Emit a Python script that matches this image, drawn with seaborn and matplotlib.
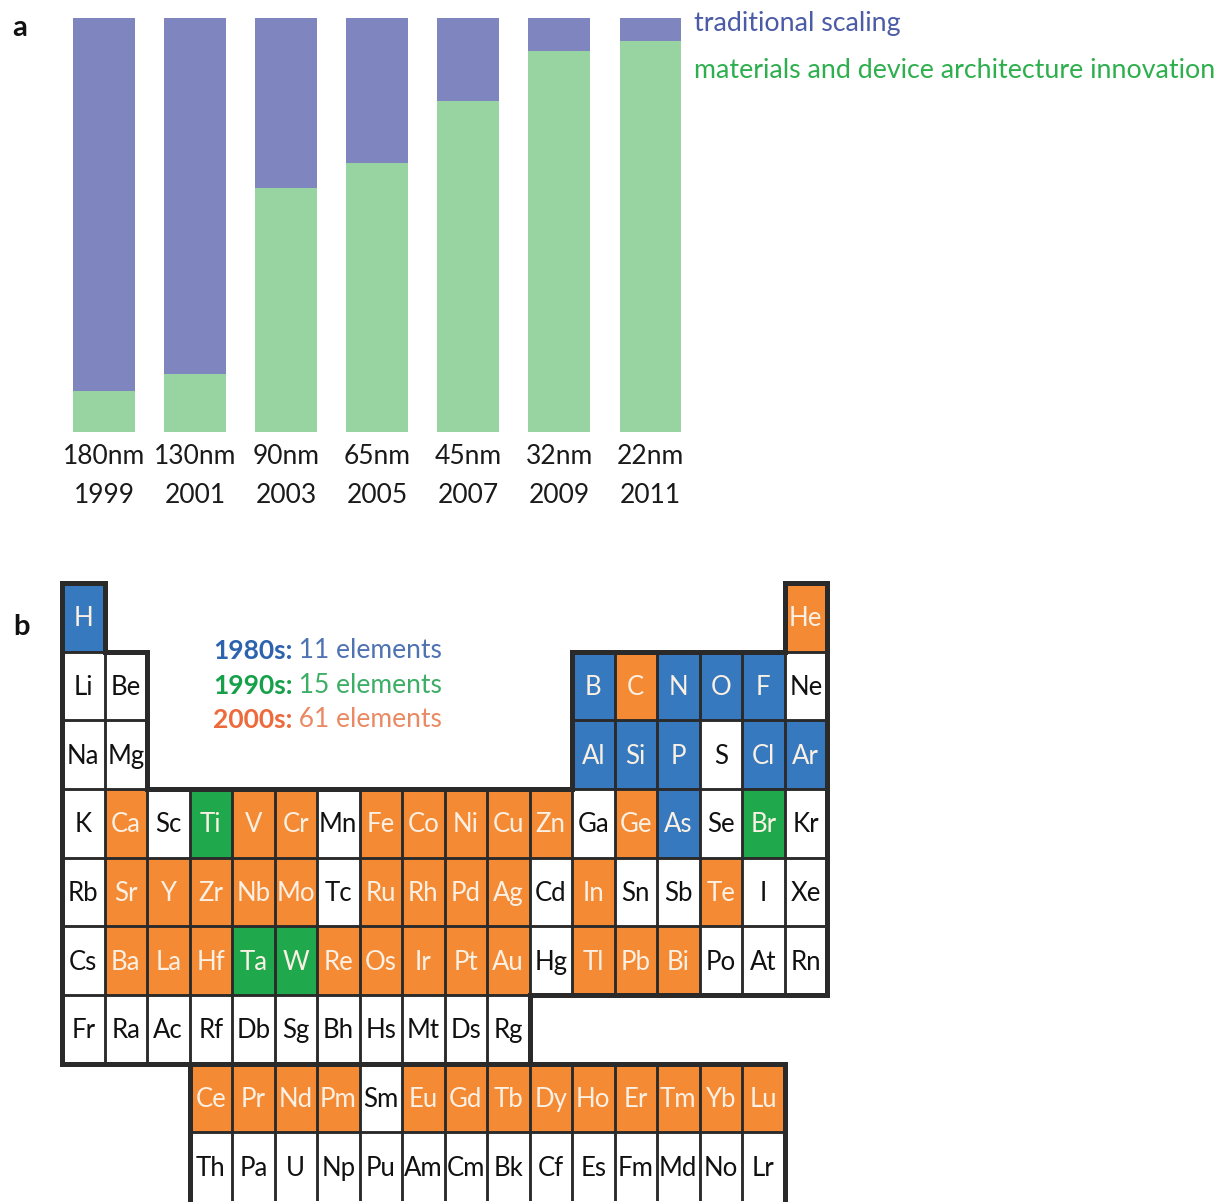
import numpy as np
import pandas as pd
import matplotlib
matplotlib.use("Agg")
import matplotlib.pyplot as plt
import seaborn as sns
from matplotlib.colors import ListedColormap
from matplotlib.collections import LineCollection

# ---------------- data: panel a ----------------
nodes = ["180nm", "130nm", "90nm", "65nm", "45nm", "32nm", "22nm"]
years = ["1999", "2001", "2003", "2005", "2007", "2009", "2011"]
materials_share = [10, 14, 59, 65, 80, 92, 94.5]
scaling_share = [90, 86, 41, 35, 20, 8, 5.5]

# ---------------- data: panel b ----------------
table_rows = [
    ["H"] + [""] * 16 + ["He"],
    ["Li", "Be"] + [""] * 10 + ["B", "C", "N", "O", "F", "Ne"],
    ["Na", "Mg"] + [""] * 10 + ["Al", "Si", "P", "S", "Cl", "Ar"],
    ["K", "Ca", "Sc", "Ti", "V", "Cr", "Mn", "Fe", "Co", "Ni", "Cu", "Zn", "Ga", "Ge", "As", "Se", "Br", "Kr"],
    ["Rb", "Sr", "Y", "Zr", "Nb", "Mo", "Tc", "Ru", "Rh", "Pd", "Ag", "Cd", "In", "Sn", "Sb", "Te", "I", "Xe"],
    ["Cs", "Ba", "La", "Hf", "Ta", "W", "Re", "Os", "Ir", "Pt", "Au", "Hg", "Tl", "Pb", "Bi", "Po", "At", "Rn"],
    ["Fr", "Ra", "Ac", "Rf", "Db", "Sg", "Bh", "Hs", "Mt", "Ds", "Rg"] + [""] * 7,
    [""] * 3 + ["Ce", "Pr", "Nd", "Pm", "Sm", "Eu", "Gd", "Tb", "Dy", "Ho", "Er", "Tm", "Yb", "Lu"] + [""],
    [""] * 3 + ["Th", "Pa", "U", "Np", "Pu", "Am", "Cm", "Bk", "Cf", "Es", "Fm", "Md", "No", "Lr"] + [""],
]
era_1980s = ["H", "B", "N", "O", "F", "Al", "Si", "P", "Cl", "Ar", "As"]
era_1990s = ["Ti", "Br", "Ta", "W"]
era_2000s = ["He", "C", "Ca", "V", "Cr", "Fe", "Co", "Ni", "Cu", "Zn", "Ge",
             "Sr", "Y", "Zr", "Nb", "Mo", "Ru", "Rh", "Pd", "Ag", "In", "Te",
             "Ba", "La", "Hf", "Re", "Os", "Ir", "Pt", "Au", "Tl", "Pb", "Bi",
             "Ce", "Pr", "Nd", "Pm", "Eu", "Gd", "Tb", "Dy", "Ho", "Er", "Tm", "Yb", "Lu"]
main_block_rows = 7
legend_b = [("1980s:", " 11 elements"), ("1990s:", " 15 elements"), ("2000s:", " 61 elements")]

# ---------------- style ----------------
BAR_BLUE = "#7F85BF"
BAR_GREEN = "#98D4A2"
CELL_BLUE = "#3779BE"
CELL_GREEN = "#20A84D"
CELL_ORANGE = "#F58A34"
LINE = "#2a2a2a"

sns.set_theme(style="white")
plt.rcParams["font.family"] = ["Lato", "DejaVu Sans"]

W, H = 1225, 1202
fig = plt.figure(figsize=(W / 100, H / 100), dpi=100, facecolor="white")


def px_axes(l, t, r, b):
    return fig.add_axes([l / W, 1 - b / H, (r - l) / W, (b - t) / H])


# ---------------- panel a ----------------
axa = px_axes(58.5, 18, 696, 432)
df = pd.DataFrame({
    "label": [f"{n}\n{y}" for n, y in zip(nodes, years)],
    "materials": materials_share,
    "scaling": scaling_share,
})
df["total"] = df["materials"] + df["scaling"]
sns.barplot(data=df, x="label", y="total", color=BAR_BLUE, saturation=1,
            width=0.68, errorbar=None, linewidth=0, ax=axa)
sns.barplot(data=df, x="label", y="materials", color=BAR_GREEN, saturation=1,
            width=0.68, errorbar=None, linewidth=0, ax=axa)
axa.set_ylim(0, 100)
axa.set_xlim(-0.5, len(nodes) - 0.5)
axa.set_yticks([])
axa.set_xlabel("")
axa.set_ylabel("")
axa.tick_params(axis="x", length=0, pad=8.5, labelsize=19, labelcolor="#1a1a1a")
for lbl in axa.get_xticklabels():
    lbl.set_linespacing(1.72)
sns.despine(ax=axa, left=True, bottom=True)

fig.text(694 / W, 1 - 24 / H, "traditional scaling", color="#4B5BA6",
         fontsize=19.3, ha="left", va="center")
fig.text(694 / W, 1 - 70 / H, "materials and device architecture innovation",
         color="#2EAF4E", fontsize=19.3, ha="left", va="center")

fig.text(12 / W, 1 - 28 / H, "a", fontweight="bold", fontsize=21, va="center", color="#111111")
fig.text(13 / W, 1 - 627 / H, "b", fontweight="bold", fontsize=21, va="center", color="#111111")

# ---------------- panel b ----------------
nrows, ncols = len(table_rows), len(table_rows[0])
status = np.full((nrows, ncols), np.nan)
for i, row in enumerate(table_rows):
    for j, sym in enumerate(row):
        if not sym:
            continue
        if sym in era_1980s:
            status[i, j] = 1
        elif sym in era_1990s:
            status[i, j] = 2
        elif sym in era_2000s:
            status[i, j] = 3
        else:
            status[i, j] = 0

axb = px_axes(62, 583, 827, 1201)
sns.heatmap(status, mask=np.isnan(status),
            cmap=ListedColormap(["#FFFFFF", CELL_BLUE, CELL_GREEN, CELL_ORANGE]),
            vmin=-0.5, vmax=3.5, cbar=False, linewidths=0,
            xticklabels=False, yticklabels=False, ax=axb)
axb.set_xlim(0, ncols)
axb.set_ylim(nrows, 0)

for i, row in enumerate(table_rows):
    for j, sym in enumerate(row):
        if not sym:
            continue
        col = "#111111" if status[i, j] == 0 else "#FAF0E4"
        axb.text(j + 0.5, i + 0.52, sym, ha="center", va="center",
                 fontsize=18.5, color=col, zorder=6)

# cell borders (thin) and outline of the two blocks (thick)
group = np.zeros((nrows, ncols), dtype=int)
for i in range(nrows):
    for j in range(ncols):
        if table_rows[i][j]:
            group[i, j] = 1 if i < main_block_rows else 2


def g(i, j):
    if 0 <= i < nrows and 0 <= j < ncols:
        return group[i, j]
    return -1 if i >= nrows else 0


thin, thick = [], []
for i in range(nrows):
    for j in range(ncols):
        gg = group[i, j]
        if gg == 0:
            continue
        sides = [
            (g(i - 1, j), [(j, i), (j + 1, i)]),
            (g(i + 1, j), [(j, i + 1), (j + 1, i + 1)]),
            (g(i, j - 1), [(j, i), (j, i + 1)]),
            (g(i, j + 1), [(j + 1, i), (j + 1, i + 1)]),
        ]
        for ng, seg in sides:
            if ng == -1:
                continue  # bottom edge runs off the page in the reference
            (thick if ng != gg else thin).append(seg)

lc_thin = LineCollection(thin, colors=LINE, linewidths=1.8, zorder=4)
axb.add_collection(lc_thin)
lc = LineCollection(thick, colors=LINE, linewidths=3.6, capstyle="projecting", zorder=5)
lc.set_clip_on(False)
axb.add_collection(lc)
for s in axb.spines.values():
    s.set_visible(False)

# legend of panel b
leg_colors = [("#2D62AE", "#4F72B3"), ("#16A04A", "#3DAE66"), ("#EC6A3C", "#E98A64")]
leg_y = [651, 686, 720]
for (bold, rest), (c1, c2), yy in zip(legend_b, leg_colors, leg_y):
    t = fig.text(213 / W, 1 - yy / H, bold, fontweight="bold", color=c1,
                 fontsize=19, ha="left", va="center")
    axb.annotate(rest, xy=(1, 0), xycoords=t, ha="left", va="bottom",
                 color=c2, fontsize=19, annotation_clip=False)

fig.savefig("out.png", dpi=100, facecolor="white")
